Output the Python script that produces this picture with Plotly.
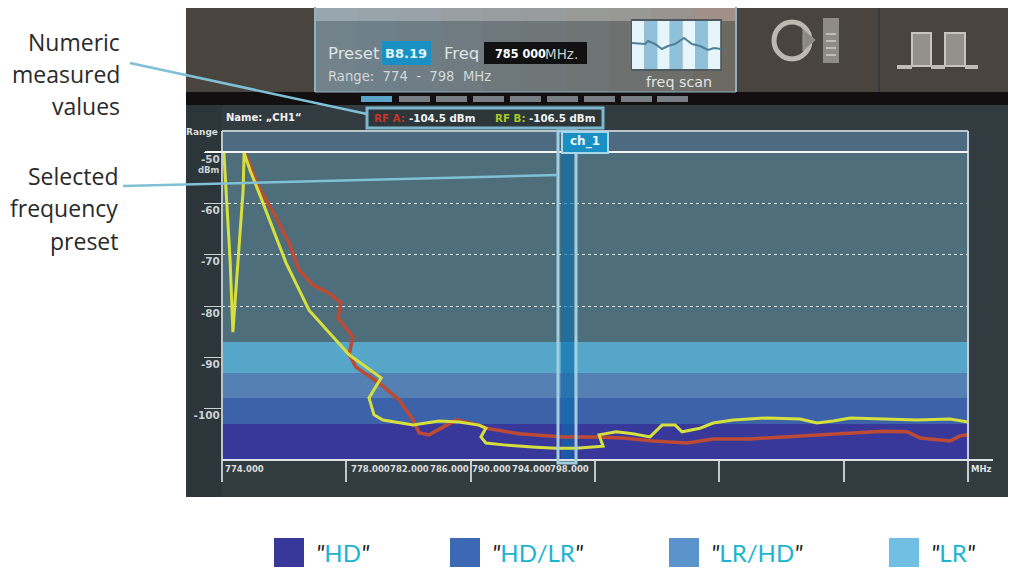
import plotly.graph_objects as go

W, H = 1012, 570

# Spectrum traces: frequency in MHz, level in dBm
rf_b_mhz = [774.06, 774.19, 774.26, 774.35, 774.45, 774.58, 774.68, 774.71, 774.90, 775.22, 775.54, 776.06,
            776.80, 777.67, 778.09, 779.12, 778.73, 778.89, 779.18, 780.15, 780.98, 781.63, 782.27, 782.49,
            782.33, 782.49, 783.14, 784.10, 784.75, 785.39, 786.26, 786.13, 786.68, 787.22, 787.77, 788.16,
            788.58, 788.80, 789.38, 789.80, 790.44, 791.54, 792.60, 793.14, 793.66, 794.21, 795.27, 796.36,
            797.42, 798.00]
rf_b_dbm = [-50.0, -62.3, -71.0, -85.1, -76.9, -65.2, -57.4, -50.2, -53.5, -58.4, -63.5, -71.6,
            -80.8, -86.6, -89.5, -94.0, -97.9, -101.2, -102.2, -103.2, -102.4, -102.6, -103.2, -103.8,
            -105.5, -106.7, -107.1, -107.5, -107.7, -107.7, -107.3, -105.1, -104.5, -104.9, -105.5, -103.2,
            -103.2, -104.5, -103.8, -102.8, -102.2, -101.8, -102.0, -102.8, -102.4, -101.8, -102.0, -102.2,
            -102.0, -102.6]
rf_a_mhz = [774.71, 774.84, 775.19, 775.74, 776.16, 776.48, 776.93, 777.44, 777.83, 777.73, 778.21, 778.15,
            778.09, 778.31, 779.05, 779.70, 780.15, 780.34, 780.66, 781.11, 781.53, 782.27, 782.49, 783.56,
            784.97, 786.03, 786.90, 787.87, 788.96, 789.80, 790.99, 792.05, 793.66, 795.27, 796.04, 796.46,
            797.42, 797.74, 798.00]
rf_a_dbm = [-50.0, -51.6, -57.0, -62.7, -67.7, -73.0, -75.9, -77.5, -79.4, -82.3, -86.0, -88.0,
            -89.5, -91.9, -95.0, -98.3, -102.2, -104.7, -105.1, -103.6, -102.2, -103.2, -103.8, -104.9,
            -105.5, -105.5, -105.7, -106.3, -106.7, -105.9, -105.9, -105.5, -104.9, -104.4, -104.5, -105.7,
            -106.3, -105.3, -105.1]

# Link quality zones, bottom to top, as dBm limits
zone_names = ["HD", "HD/LR", "LR/HD", "LR"]
zone_low = [-110, -103, -98, -93]
zone_high = [-103, -98, -93, -87]
zone_colors = ["#38389a", "#3c62aa", "#5580b4", "#56a6ca"]
legend_colors = ["#38389a", "#3c68b4", "#5b93cc", "#70bfe2"]

# Axis content
freq_ticks = [774, 778, 782, 786, 790, 794, 798]
freq_labels = ["774.000", "778.000", "782.000", "786.000", "790.000", "794.000", "798.000"]
level_ticks = [-50, -60, -70, -80, -90, -100]
level_labels = ["<b>-50</b>", "<b>-60</b>", "<b>-70</b>", "<b>-80</b>", "<b>-90</b>", "<b>-100</b>"]
preset_low, preset_high = 784.91, 785.33
preset_out_low, preset_out_high = 784.81, 785.39


def px(x):
    return x / W


def py(y):
    return 1 - y / H


shapes = []
annotations = []


def rect(x0, y0, x1, y1, fill, line=None, lw=0, layer="below"):
    shapes.append(dict(type="rect", xref="paper", yref="paper", x0=px(x0), x1=px(x1), y0=py(y0), y1=py(y1),
                       fillcolor=fill, line=dict(color=line or fill, width=lw), layer=layer))


def seg(x0, y0, x1, y1, color, lw=1, layer="above", dash="solid"):
    shapes.append(dict(type="line", xref="paper", yref="paper", x0=px(x0), x1=px(x1), y0=py(y0), y1=py(y1),
                       line=dict(color=color, width=lw, dash=dash), layer=layer))


def poly(points, color, lw=1, fill=None, layer="above"):
    d = "M" + " L".join(f"{px(a):.5f},{py(b):.5f}" for a, b in points)
    if fill:
        d += " Z"
    shapes.append(dict(type="path", xref="paper", yref="paper", path=d, layer=layer,
                       line=dict(color=color, width=lw), fillcolor=fill or "rgba(0,0,0,0)"))


def label(x, y, text, size=10, color="#ffffff", anchor="left", family="DejaVu Sans"):
    annotations.append(dict(xref="paper", yref="paper", x=px(x), y=py(y), text=text, showarrow=False,
                            xanchor=anchor, yanchor="middle", font=dict(size=size, color=color, family=family),
                            borderpad=0, borderwidth=0))


# Instrument panel behind the plot
rect(186, 8, 1008, 497, "#323c40")
rect(186, 8, 315, 92, "#4a443e")
rect(737, 8, 878, 92, "#4a443e")
rect(880, 8, 1008, 92, "#4a443e")
rect(186, 92, 1008, 105, "#130f10")
rect(186, 105, 222, 497, "#2c3539")

# Header tab with a soft left-to-right shift in tone
tab_body = ["#71828a", "#70808a", "#6f7d84", "#6f7b80", "#6e787c", "#6e7678", "#6e7374", "#6e7070", "#6d6d6a", "#6d6a64"]
tab_top = ["#98a6ae", "#98a4aa", "#98a2a8", "#98a0a4", "#989ea0", "#989c9c", "#989a98", "#989894", "#9a9490", "#a09088"]
for i, (body, top) in enumerate(zip(tab_body, tab_top)):
    x0 = 315 + 42 * i
    rect(x0, 8, x0 + 42, 21, top)
    rect(x0, 21, x0 + 42, 92, body)
seg(315, 7, 315, 92, "#8fb0c2", 2, "below")
seg(736, 7, 736, 92, "#8fb0c2", 2, "below")
seg(315, 92, 736, 92, "#8fb0c2", 1, "below")

# Preset paging bar
for i, x0 in enumerate([361, 399, 436, 473, 510, 547, 584, 621, 657]):
    rect(x0, 96, x0 + 31, 102, "#5ba3c8" if i == 0 else "#767e84")

# Plot backdrop and the strip above the -50 dBm line
rect(222, 131, 968, 460, "#4f6e7b")

# Header fields
rect(382, 41, 431, 65, "#1a8fc4")
rect(484, 42, 541, 64, "#111111")
rect(541, 42, 587, 64, "#111111")
label(328, 54, "Preset", 16.5, "#dfe3e4")
label(406, 54, "<b>B8.19</b>", 13, "#dff3fa", "center")
label(444, 54, "Freq", 16.5, "#dfe3e4")
label(495, 54, "<b>785 000</b>", 12.5, "#ffffff", family="DejaVu Sans Condensed")
label(545, 54, "MHz.", 13.5, "#c8cccc")
label(328, 77, "Range:  774  -  798  MHz", 13.2, "#d4d8d8")

# Scan thumbnail
rect(631, 19, 722, 71, "#4e5a60")
for i in range(7):
    rect(632 + i * 12.6, 21, 632 + (i + 1) * 12.6, 69, "#e6f5fb" if i % 2 == 0 else "#8fc1da")
poly([(632, 43), (645, 44), (648, 41), (655, 44), (662, 49), (668, 46), (675, 44), (684, 38), (692, 44), (700, 46),
      (708, 50), (714, 48), (721, 49)], "#4d8198", 2)
label(679, 82, "freq scan", 14.3, "#e2e4e2", "center")

# Rotary and pulse icons
shapes.append(dict(type="circle", xref="paper", yref="paper", x0=px(774), x1=px(810), y0=py(22), y1=py(59),
                   line=dict(color="#bdb8b0", width=5), fillcolor="rgba(0,0,0,0)", layer="above"))
poly([(803, 29), (815, 40), (803, 51)], "#a09c96", 1, "#8c8884")
rect(823, 18, 839, 63, "#8f8b87")
for y in (34, 41, 48, 55):
    seg(826, y, 836, y, "#c0bcb6", 2)
rect(912, 33, 931, 66, "#94918c", "#c8c4bc", 2, "above")
rect(945, 33, 965, 66, "#94918c", "#c8c4bc", 2, "above")
seg(897, 67, 912, 67, "#c0bcb4", 4)
seg(931, 67, 945, 67, "#c0bcb4", 4)
seg(965, 67, 978, 67, "#c0bcb4", 4)

# Name and measured level read-out
label(226, 118, "<b>Name: „CH1“</b>", 10, "#f2f2f2")
rect(367, 108, 603, 128, "#2d3638", "#7db7ce", 3)
label(374, 118, "<b>RF A:</b>", 10.3, "#c8342c")
label(409, 118, "<b>-104.5 dBm</b>", 10.3, "#f0f2f2")
label(495, 118, "<b>RF B:</b>", 10.3, "#a4c828")
label(529, 118, "<b>-106.5 dBm</b>", 10.3, "#f0f2f2")
label(186, 132, "<b>Range</b>", 9, "#d8dcdc")
label(220, 170, "<b>dBm</b>", 8.5, "#c8d0d4", "right")
label(992, 469, "<b>MHz</b>", 8.5, "#dfe2e4", "right")

# Frequency labels crowd towards the left of the scale
for text, cx in zip(freq_labels, [244, 370, 409, 449, 491, 531, 569]):
    label(cx, 469, f"<b>{text}</b>", 8.5, "#d8dcde", "center")

# Plot frame
seg(222, 131, 968, 131, "#b9c6cc", 2)
seg(222, 131, 222, 481, "#b9c6cc", 2)
seg(968, 131, 968, 481, "#c4ced4", 2)
seg(205, 152, 968, 152, "#f4f6f6", 2)
seg(222, 460, 993, 460, "#dde2e6", 2)

# Selected preset frame and tab
rect(558, 131, 576, 463, "rgba(0,0,0,0)", "#a0cfe2", 3, "above")
rect(562, 132, 608, 153, "#1a8fc4", "#a9d8ec", 2, "above")
label(585, 141, "<b>ch_1</b>", 12, "#e8f6fb", "center")

# Callout leaders
seg(130, 63, 367, 114, "#7fc0d6", 2.5)
seg(123, 186, 558, 175, "#7fc0d6", 2.5)

# Callout captions
for text, y in [("Numeric", 42), ("measured", 74), ("values", 106), ("Selected", 176), ("frequency", 208), ("preset", 241)]:
    label(120 if y < 150 else 118, y, text, 23, "#2a2a2a", "right", "Open Sans")

# Zone legend
quote = '<span style="color:#222222"><i>"</i></span>'
for name, color, x0 in zip(zone_names, legend_colors, [274, 450, 669, 889]):
    rect(x0, 538, x0 + 30, 567, color)
    annotations.append(dict(xref="paper", yref="paper", x=px(x0 + 40), y=py(552),
                            text=f"{quote}{name}{quote}", showarrow=False, xanchor="left", yanchor="middle",
                            font=dict(size=24, color="#1bb4d0", family="Lato")))

fig = go.Figure()

# Strip above the top level line
fig.add_bar(x=[786], y=[4.1], base=[-50], width=[24], marker=dict(color="#4e6a80", line_width=0), hoverinfo="skip")

# Quality zones
for low, high, color in zip(zone_low, zone_high, zone_colors):
    fig.add_bar(x=[786], y=[high - low], base=[low], width=[24], marker=dict(color=color, line_width=0), hoverinfo="skip")

# Selected preset column
fig.add_bar(x=[(preset_low + preset_high) / 2], y=[60], base=[-110], width=[preset_high - preset_low],
            marker=dict(color="rgba(10,110,175,0.62)", line_width=0), hoverinfo="skip")

fig.add_scatter(x=rf_a_mhz, y=rf_a_dbm, mode="lines", name="RF A", line=dict(color="#bc4a34", width=3.5))
fig.add_scatter(x=rf_b_mhz, y=rf_b_dbm, mode="lines", name="RF B", line=dict(color="#d6e03c", width=3))

fig.update_layout(
    width=W, height=H, autosize=False, margin=dict(l=0, r=0, t=0, b=0),
    paper_bgcolor="#ffffff", plot_bgcolor="#4f6e7b", showlegend=False, barmode="overlay", bargap=0,
    shapes=shapes, annotations=annotations,
    xaxis=dict(domain=[px(222), px(968)], range=[774, 798], tickvals=freq_ticks, ticktext=[""] * len(freq_ticks),
               ticks="outside", ticklen=21, tickwidth=2, tickcolor="#c0c8cc", showgrid=False, zeroline=False,
               showline=False, fixedrange=True),
    yaxis=dict(domain=[py(460), py(131)], range=[-110, -45.9], tickvals=level_ticks, ticktext=level_labels,
               ticks="outside", ticklen=17, tickwidth=1, tickcolor="#c8d0d4", ticklabelstandoff=-18,
               ticklabelshift=7, tickfont=dict(size=10.5, color="#c8d0d4", family="DejaVu Sans"),
               showgrid=True, griddash="dot", gridcolor="#dfe8ea", gridwidth=1, zeroline=False, showline=False,
               fixedrange=True),
)

fig.write_html("out.html")
